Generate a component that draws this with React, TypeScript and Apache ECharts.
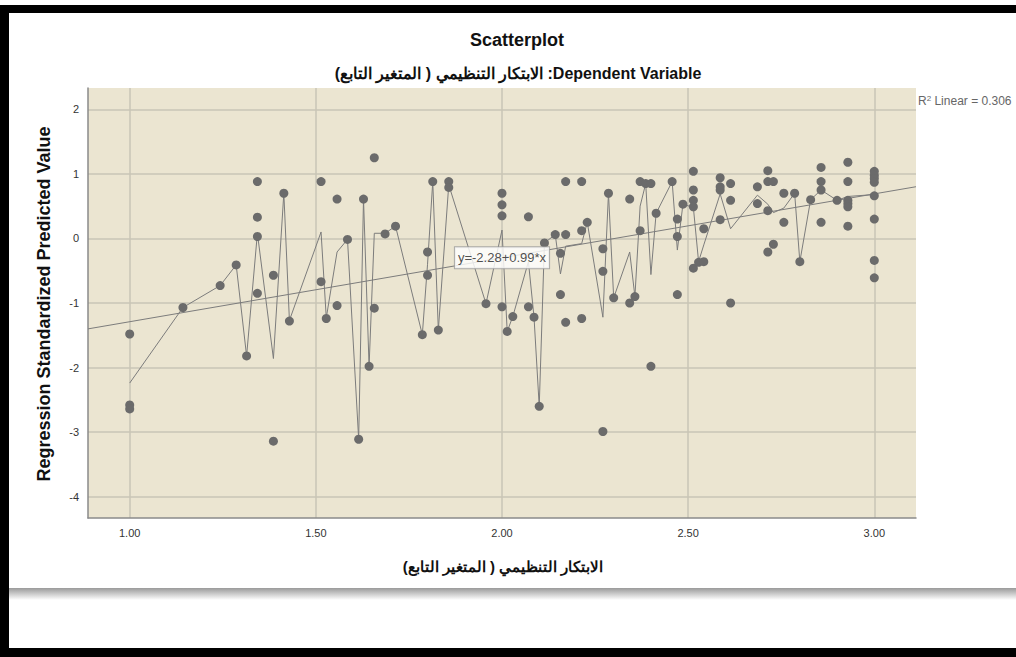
import React, { useEffect, useRef } from "react";
import * as echarts from "echarts";

// ---- data ----
const pointX: number[] = [
  1.0, 1.0, 1.0, 1.143, 1.243, 1.286, 1.314, 1.343, 1.343, 1.343, 1.343,
  1.386, 1.386, 1.414, 1.429, 1.514, 1.514, 1.528, 1.557, 1.557, 1.585,
  1.615, 1.628, 1.643, 1.657, 1.657, 1.686, 1.714, 1.786, 1.8, 1.8, 1.814,
  1.829, 1.857, 1.857, 1.957, 2.0, 2.0, 2.0, 2.0, 2.014, 2.029, 2.071, 2.071,
  2.086, 2.1, 2.114, 2.143, 2.157, 2.157, 2.171, 2.171, 2.171, 2.214, 2.214,
  2.214, 2.229, 2.271, 2.271, 2.271, 2.286, 2.3, 2.343, 2.343, 2.357, 2.371,
  2.371, 2.386, 2.4, 2.4, 2.414, 2.457, 2.471, 2.471, 2.471, 2.486, 2.514,
  2.514, 2.514, 2.514, 2.514, 2.528, 2.542, 2.542, 2.586, 2.586, 2.586,
  2.586, 2.614, 2.614, 2.614, 2.686, 2.686, 2.714, 2.714, 2.714, 2.714,
  2.729, 2.729, 2.757, 2.757, 2.786, 2.8, 2.829, 2.857, 2.857, 2.857, 2.857,
  2.9, 2.929, 2.929, 2.929, 2.929, 2.929, 2.929, 3.0, 3.0, 3.0, 3.0, 3.0, 3.0,
  3.0, 3.0,
];
const pointY: number[] = [
  -1.48, -2.58, -2.64, -1.07, -0.73, -0.41, -1.82, 0.88, 0.33, 0.03, -0.85,
  -0.57, -3.14, 0.7, -1.28, 0.88, -0.67, -1.24, 0.61, -1.04, -0.015,
  -3.11, 0.61, -1.98, 1.25, -1.08, 0.07, 0.19, -1.49, -0.21, -0.57, 0.88,
  -1.42, 0.88, 0.79, -1.01, 0.7, 0.52, 0.35, -1.06, -1.44, -1.21, 0.335, -1.06,
  -1.22, -2.6, -0.07, 0.06, -0.23, -0.87, 0.88, 0.06, -1.3, 0.88, 0.12,
  -1.24, 0.25, -0.16, -0.51, -2.99, 0.7, -0.92, 0.61, -1.0, -0.9, 0.88,
  0.12, 0.85, 0.85, -1.98, 0.39, 0.88, 0.3, 0.03, -0.87, 0.53, 1.04,
  0.75, 0.59, 0.49, -0.46, -0.37, 0.15, -0.36, 0.94, 0.8, 0.75,
  0.29, 0.85, 0.59, -1.0, 0.8, 0.54, 1.05, 0.88, 0.43, -0.21,
  0.88, -0.09, 0.7, 0.25, 0.7, -0.36, 0.6, 1.1, 0.88, 0.75, 0.25,
  0.59, 1.18, 0.88, 0.59, 0.54, 0.49, 0.19, 1.04, 0.98, 0.93, 0.87, 0.66, 0.3,
  -0.34, -0.61,
];

// interpolation line (mean per x value)
const lineX: number[] = [
  1.0, 1.143, 1.243, 1.286, 1.314, 1.343, 1.386, 1.414, 1.429, 1.514, 1.528,
  1.557, 1.585, 1.615, 1.628, 1.643, 1.657, 1.686, 1.714, 1.786, 1.8, 1.814,
  1.829, 1.857, 1.957, 2.0, 2.014, 2.029, 2.071, 2.086, 2.1, 2.114, 2.143,
  2.157, 2.171, 2.214, 2.229, 2.271, 2.286, 2.3, 2.343, 2.357, 2.371, 2.386,
  2.4, 2.414, 2.457, 2.471, 2.486, 2.514, 2.528, 2.542, 2.586, 2.614, 2.686,
  2.714, 2.729, 2.757, 2.786, 2.8, 2.829, 2.857, 2.9, 2.929, 3.0,
];
const lineY: number[] = [
  -2.24, -1.07, -0.73, -0.41, -1.82, 0.08, -1.86, 0.7, -1.27, 0.1, -1.23,
  -0.21, -0.015, -3.11, 0.61, -1.98, 0.08, 0.08, 0.19, -1.49, -0.4, 0.88,
  -1.42, 0.83, -1.01, 0.13, -1.44, -1.21, -0.36, -1.22, -2.6, -0.07, 0.06,
  -0.55, -0.12, -0.08, 0.25, -1.22, 0.7, -0.92, -0.21, -0.9, 0.5, 0.85,
  -0.56, 0.39, 0.88, -0.18, 0.53, 0.48, -0.36, -0.1, 0.69, 0.15, 0.67,
  0.53, 0.4, 0.47, 0.7, -0.36, 0.6, 0.75, 0.59, 0.65, 0.68,
];

const fitIntercept = -2.28;
const fitSlope = 0.99;
const rSquared = "0.306";

const xTicks: number[] = [1.0, 1.5, 2.0, 2.5, 3.0];
const yTicks: number[] = [-4, -3, -2, -1, 0, 1, 2];
const xMin = 0.888;
const xMax = 3.112;
const yMin = -4.33;
const yMax = 2.33;

const titleText = "Scatterplot";
const subtitleText = "\u202BDependent Variable: الابتكار التنظيمي ( المتغير التابع)\u202C";
const xAxisTitle = "الابتكار التنظيمي ( المتغير التابع)";
const yAxisTitle = "Regression Standardized Predicted Value";
const equationText = "y=-2.28+0.99*x";

export default function App() {
  const ref = useRef<HTMLDivElement>(null);
  useEffect(() => {
    if (!ref.current) return;
    const chart = echarts.init(ref.current, null, { renderer: "svg" });
    const points = pointX.map((x, i) => [x, pointY[i]]);
    const meanLine = lineX.map((x, i) => [x, lineY[i]]);
    const fitLine = [
      [xMin, fitIntercept + fitSlope * xMin],
      [xMax, fitIntercept + fitSlope * xMax],
    ];
    const eqX = 2.0;
    const font = "'Liberation Sans', Arial, sans-serif";
    chart.setOption({
      animation: false,
      backgroundColor: "#ffffff",
      grid: {
        left: 88,
        right: 100,
        top: 88,
        bottom: 139,
        show: true,
        backgroundColor: "#ebe5d1",
        borderWidth: 0,
      },
      xAxis: {
        type: "value",
        min: xMin,
        max: xMax,
        axisLine: { show: true, onZero: false, lineStyle: { color: "#8a8a8a", width: 1.5 } },
        axisTick: { show: false, customValues: xTicks },
        axisLabel: {
          customValues: xTicks,
          formatter: (v: number) => v.toFixed(2),
          fontFamily: font,
          fontSize: 11,
          color: "#333",
          margin: 9,
        },
        splitLine: { show: true, lineStyle: { color: "#c9c4b6", width: 1.5 } },
      },
      yAxis: {
        type: "value",
        min: yMin,
        max: yMax,
        axisLine: { show: true, onZero: false, lineStyle: { color: "#8a8a8a", width: 1.5 } },
        axisTick: { show: false, customValues: yTicks },
        axisLabel: {
          customValues: yTicks,
          formatter: (v: number) => String(Math.round(v)),
          fontFamily: font,
          fontSize: 11,
          color: "#333",
          margin: 9,
        },
        splitLine: { show: true, lineStyle: { color: "#c9c4b6", width: 1.5 } },
      },
      series: [
        {
          type: "line",
          data: fitLine,
          showSymbol: false,
          symbol: "none",
          lineStyle: { color: "#7c7c7c", width: 1 },
          silent: true,
          z: 2,
        },
        {
          type: "line",
          data: meanLine,
          showSymbol: false,
          symbol: "none",
          lineStyle: { color: "#7c7c7c", width: 1 },
          silent: true,
          z: 3,
        },
        {
          type: "scatter",
          data: points,
          symbolSize: 9,
          itemStyle: { color: "#6b6b6b", opacity: 1 },
          z: 4,
        },
        {
          type: "scatter",
          data: [[eqX, fitIntercept + fitSlope * eqX]],
          symbolSize: 0,
          z: 6,
          label: {
            show: true,
            position: "inside",
            formatter: equationText,
            fontFamily: font,
            fontSize: 13,
            color: "#222",
            backgroundColor: "#ffffff",
            borderColor: "#9a9a9a",
            borderWidth: 1,
            padding: [4, 3, 4, 3],
          },
        },
      ],
      graphic: [
        {
          type: "text",
          x: 517,
          y: 40,
          style: {
            text: titleText,
            align: "center",
            verticalAlign: "middle",
            fontFamily: font,
            fontWeight: "bold",
            fontSize: 18,
            fill: "#111",
          },
        },
        {
          type: "text",
          x: 518,
          y: 73,
          style: {
            text: subtitleText,
            align: "center",
            verticalAlign: "middle",
            fontFamily: font,
            fontWeight: "bold",
            fontSize: 16,
            fill: "#111",
          },
        },
        {
          type: "text",
          x: 503,
          y: 566,
          style: {
            text: xAxisTitle,
            align: "center",
            verticalAlign: "middle",
            fontFamily: font,
            fontWeight: "bold",
            fontSize: 15,
            fill: "#111",
          },
        },
        {
          type: "text",
          x: 44,
          y: 304,
          rotation: Math.PI / 2,
          style: {
            text: yAxisTitle,
            align: "center",
            verticalAlign: "middle",
            fontFamily: font,
            fontWeight: "bold",
            fontSize: 18,
            fill: "#111",
          },
        },
        {
          type: "text",
          x: 918,
          y: 101,
          style: {
            text: "{b|R}{s|2}{b| Linear = " + rSquared + "}",
            verticalAlign: "middle",
            rich: {
              b: { fontFamily: font, fontSize: 12, fill: "#666", color: "#666" },
              s: { fontFamily: font, fontSize: 8, fill: "#666", color: "#666", verticalAlign: "top", padding: [0, 0, 5, 0] },
            },
          },
        },
        // frame decorations
        { type: "rect", shape: { x: 0, y: 5, width: 1016, height: 8 }, style: { fill: "#000" }, silent: true },
        { type: "rect", shape: { x: 0, y: 5, width: 9, height: 652 }, style: { fill: "#000" }, silent: true },
        { type: "rect", shape: { x: 0, y: 648, width: 1016, height: 9 }, style: { fill: "#000" }, silent: true },
        {
          type: "rect",
          shape: { x: 9, y: 588, width: 1007, height: 12 },
          style: {
            fill: new echarts.graphic.LinearGradient(0, 0, 0, 1, [
              { offset: 0, color: "#9a9a9a" },
              { offset: 0.3, color: "#b8b8b8" },
              { offset: 1, color: "#ffffff" },
            ]),
          },
          silent: true,
        },
      ],
    });
    return () => chart.dispose();
  }, []);
  return (
    <div
      ref={ref}
      style={{ position: "fixed", left: 0, top: 0, width: 1016, height: 657 }}
    />
  );
}
